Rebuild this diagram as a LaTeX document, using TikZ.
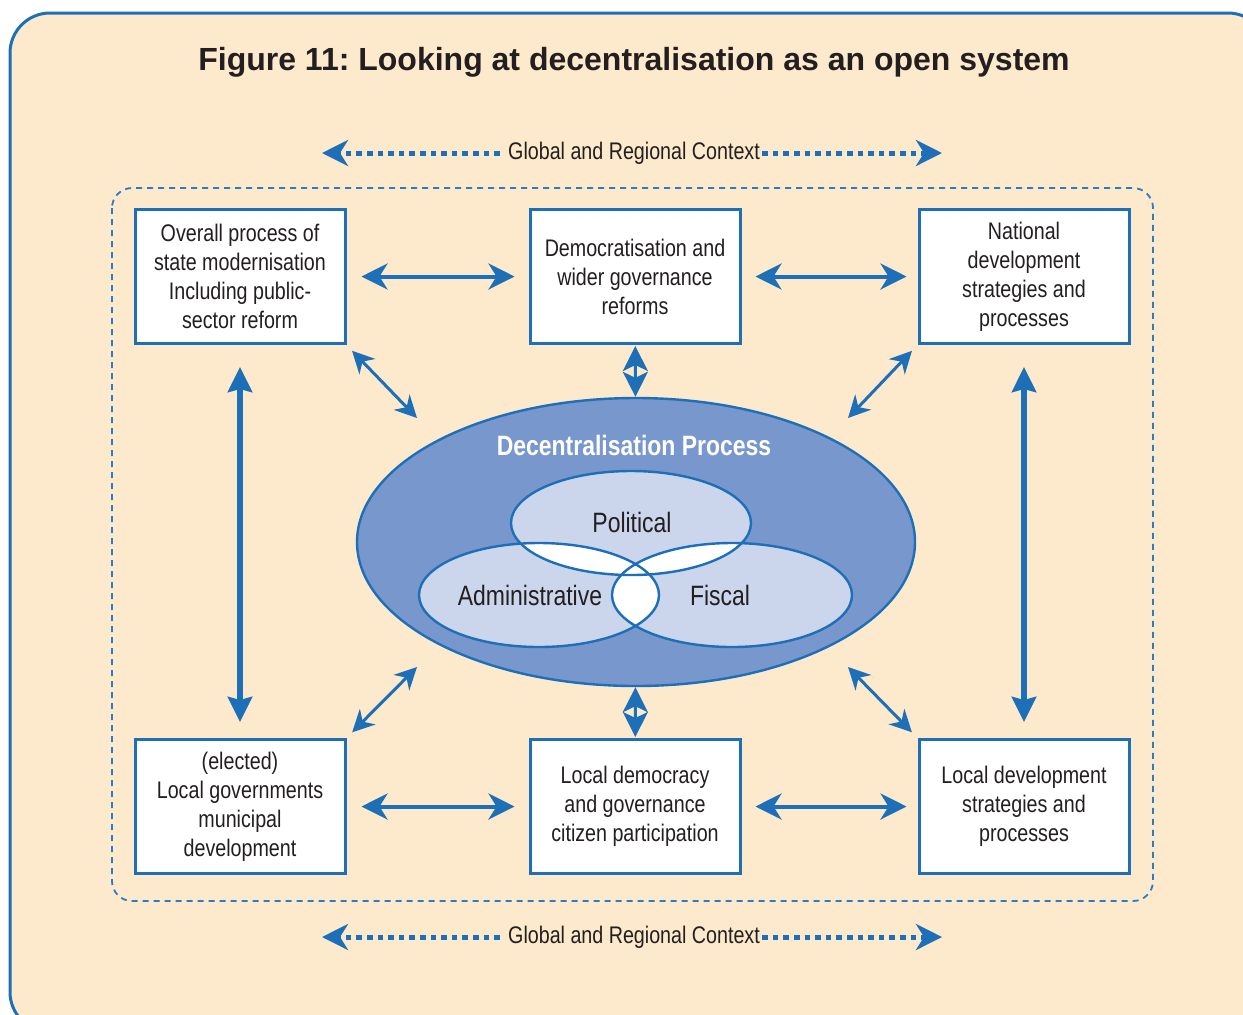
\documentclass[tikz,border=0pt]{standalone}
\usepackage{fontspec}
\setmainfont{Liberation Sans}[FakeStretch=0.82]
\newfontfamily\titlefont{Liberation Sans}
\usepackage{tikz}
\usetikzlibrary{arrows.meta,positioning,shapes.geometric}
\frenchspacing

\definecolor{frameblue}{HTML}{1D6FB8}
\definecolor{dashblue}{HTML}{2A7CC4}
\definecolor{paper}{HTML}{FDE9CC}
\definecolor{procblue}{HTML}{7897CD}
\definecolor{sectorfill}{HTML}{CBD5EC}
\definecolor{ink}{HTML}{231F20}

\tikzset{
  box/.style={draw=frameblue,line width=1.5pt,fill=white,minimum width=105pt,
    minimum height=67pt,align=center,text=ink,font=\fontsize{12}{14.5}\selectfont},
  link/.style={frameblue,line width=2pt,{Stealth[length=13pt,width=13pt,inset=4pt]}-{Stealth[length=13pt,width=13pt,inset=4pt]}},
  slant/.style={frameblue,line width=1.5pt,{Stealth[length=11pt,width=11pt,inset=3.5pt]}-{Stealth[length=11pt,width=11pt,inset=3.5pt]}},
  uplink/.style={frameblue,line width=3pt,{Stealth[length=12.5pt,width=12pt,inset=1.5pt]}-{Stealth[length=12.5pt,width=12pt,inset=1.5pt]}},
  stub/.style={frameblue,line width=1.5pt,{Stealth[length=12.5pt,width=12.5pt,inset=3pt]}-{Stealth[length=12.5pt,width=12.5pt,inset=3pt]}},
  ctx/.style={frameblue,line width=2.5pt,dash pattern=on 2.8pt off 2.5pt,-{Stealth[length=13pt,width=13pt,inset=4pt]}},
  ctxtext/.style={text=ink,inner sep=1pt,font=\fontsize{12}{14}\selectfont},
  process/.style={ellipse,draw=frameblue,line width=1.2pt,fill=procblue,
    minimum width=279pt,minimum height=144pt,inner sep=0pt},
  sector/.style={ellipse,fill=sectorfill,minimum width=120pt,minimum height=52pt,inner sep=0pt},
  sectorname/.style={text=ink,font=\fontsize{14}{16}\selectfont}
}

\begin{document}
\begin{tikzpicture}[x=0.5pt,y=-0.5pt,node distance=197.5pt,on grid]
  \useasboundingbox (0,0) rectangle (1243,1014);
  \draw[frameblue,line width=1.5pt,fill=paper,rounded corners=20pt] (10,13) rectangle (1268,1032);
  \node[text=ink,font=\titlefont\bfseries\fontsize{16}{19}\selectfont] (title) at (634,62)
    {Figure 11: Looking at decentralisation as an open system};

  % context
  \draw[dashblue,line width=0.9pt,dash pattern=on 3pt off 2.5pt,rounded corners=10pt]
    (112,188) rectangle (1153,901);
  \node[ctxtext] (gtop) at (634,153) {Global and Regional Context};
  \node[ctxtext] (gbot) at (634,937) {Global and Regional Context};
  \coordinate (gtl) at (322,153);
  \coordinate (gtr) at (942,153);
  \coordinate (gbl) at (322,937);
  \coordinate (gbr) at (942,937);
  \draw[ctx,shorten <=3pt] (gtop.west) -- (gtl);
  \draw[ctx] (gtop.east) -- (gtr);
  \draw[ctx,shorten <=3pt] (gbot.west) -- (gbl);
  \draw[ctx] (gbot.east) -- (gbr);

  % boxes
  \node[box] (tl) at (240,276.5) {Overall process of\\state modernisation\\Including public-\\sector reform};
  \node[box] (tm) [right=of tl] {Democratisation and\\wider governance\\reforms};
  \node[box] (tr) [right=194.5pt of tm] {National\\development\\strategies and\\processes};
  \node[box] (bl) [below=265pt of tl] {(elected)\\Local governments\\municipal\\development};
  \node[box] (bm) [below=265pt of tm] {Local democracy\\and governance\\citizen participation};
  \node[box] (br) [below=265pt of tr] {Local development\\strategies and\\processes};

  % process
  \node[process] (proc) at (636,542) {};
  \node[text=white,font=\bfseries\fontsize{14}{16}\selectfont] (ptitle) at (634,445) {Decentralisation Process};
  \node[sector] (pol) at (631,523) {};
  \node[sector] (adm) at (539,595) {};
  \node[sector] (fis) at (732,595) {};
  \begin{scope}
    \clip (pol.center) ellipse (60pt and 26pt);
    \fill[white] (adm.center) ellipse (60pt and 26pt) (fis.center) ellipse (60pt and 26pt);
  \end{scope}
  \begin{scope}
    \clip (adm.center) ellipse (60pt and 26pt);
    \fill[white] (fis.center) ellipse (60pt and 26pt);
  \end{scope}
  \foreach \s in {pol,adm,fis}
    \draw[frameblue,line width=1.2pt] (\s.center) ellipse (60pt and 26pt);
  \node[sectorname] (lpol) at (632,522) {Political};
  \node[sectorname] (ladm) at (530,595) {Administrative};
  \node[sectorname] (lfis) at (720,595) {Fiscal};

  % links
  \draw[link,shorten <=7.5pt,shorten >=7pt] (tl) -- (tm);
  \draw[link,shorten <=7pt,shorten >=5.5pt] (tm) -- (tr);
  \draw[link,shorten <=7.5pt,shorten >=7pt] (bl) -- (bm);
  \draw[link,shorten <=7pt,shorten >=5.5pt] (bm) -- (br);
  \draw[uplink,shorten <=11pt,shorten >=8pt] (tl) -- (bl);
  \draw[uplink,shorten <=11pt,shorten >=8pt] (tr) -- (br);
  \draw[stub,shorten <=0.5pt] (tm) -- (proc);
  \draw[stub,shorten >=0.5pt] (proc) -- (bm);

  \coordinate (dtl) at (417,418);
  \coordinate (dtr) at (848,418);
  \coordinate (dbl) at (417,667);
  \coordinate (dbr) at (848,667);
  \draw[slant,shorten <=4pt] (tl.south east) -- (dtl);
  \draw[slant,shorten <=4pt] (tr.south west) -- (dtr);
  \draw[slant,shorten <=4pt] (bl.north east) -- (dbl);
  \draw[slant,shorten <=4pt] (br.north west) -- (dbr);
\end{tikzpicture}
\end{document}
